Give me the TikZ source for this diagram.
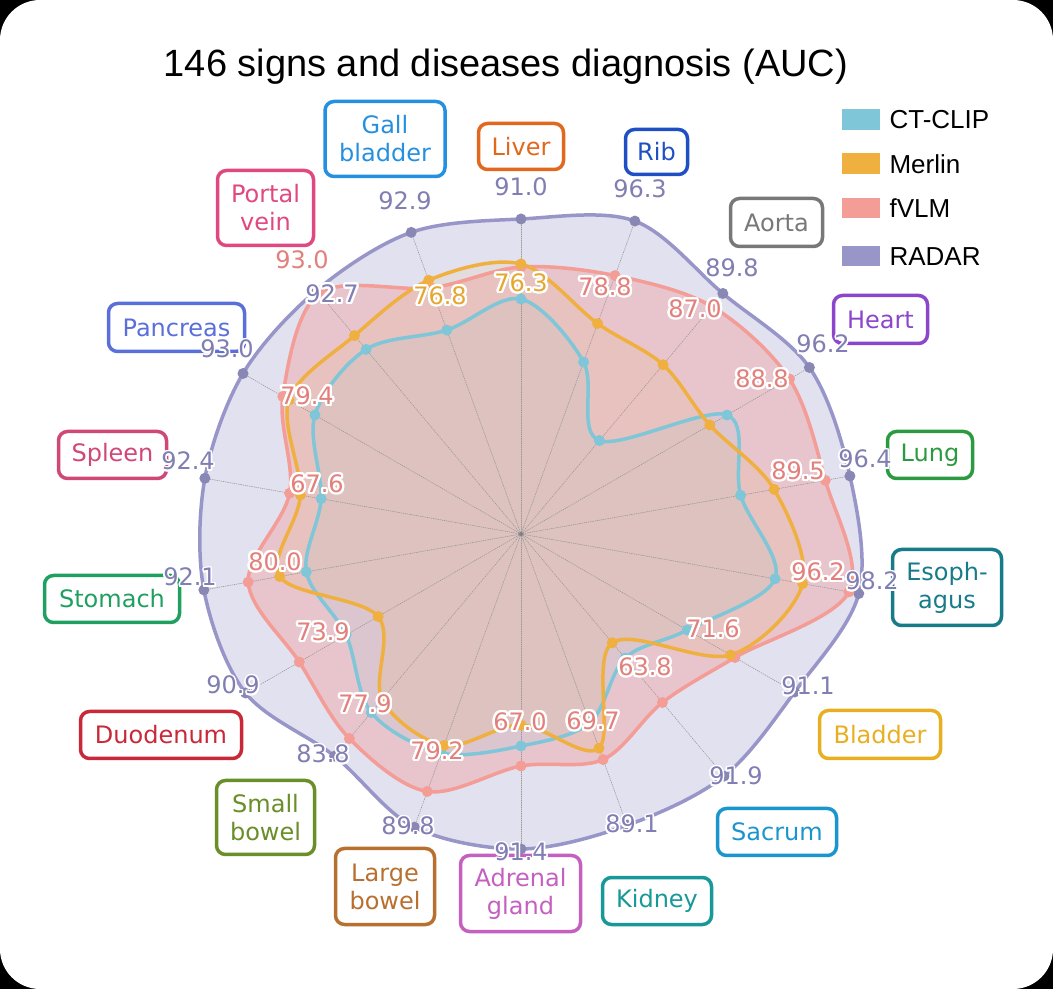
\documentclass[tikz,border=0pt]{standalone}
\usepackage{fontspec}
\setmainfont{DejaVu Sans}
\newfontfamily\arialfont{Liberation Sans}
\usepackage[copies]{contour}
\contourlength{2pt}
% white outline under a value
\newcommand\halo[1]{\contourlength{2.3pt}\contour{white}{#1}}
\newcommand\thinhalo[1]{\contourlength{1.5pt}\contour{white}{#1}}

\definecolor{ctcol}{RGB}{126,198,216}
\definecolor{mecol}{RGB}{240,176,64}
\definecolor{fvcol}{RGB}{244,156,150}
\definecolor{racol}{RGB}{152,150,200}
\definecolor{ratext}{RGB}{128,126,178}
\definecolor{fvtext}{RGB}{226,128,124}
\definecolor{metext}{RGB}{226,168,48}
\definecolor{cGall}{RGB}{38,144,224}
\definecolor{cLiver}{RGB}{226,104,30}
\definecolor{cRib}{RGB}{30,80,196}
\definecolor{cAorta}{RGB}{120,120,120}
\definecolor{cHeart}{RGB}{140,70,204}
\definecolor{cLung}{RGB}{44,154,64}
\definecolor{cEsoph}{RGB}{24,124,136}
\definecolor{cBladder}{RGB}{232,176,32}
\definecolor{cSacrum}{RGB}{26,150,204}
\definecolor{cKidney}{RGB}{24,152,152}
\definecolor{cAdrenal}{RGB}{196,96,192}
\definecolor{cLarge}{RGB}{184,112,48}
\definecolor{cSmall}{RGB}{106,142,40}
\definecolor{cDuod}{RGB}{200,40,56}
\definecolor{cStomach}{RGB}{32,160,96}
\definecolor{cSpleen}{RGB}{208,72,120}
\definecolor{cPancreas}{RGB}{90,112,216}
\definecolor{cPortal}{RGB}{224,72,128}

% closed smooth curve through the 18 points of one series
\newcommand\sercurve[1]{plot[smooth cycle, tension=0.55] coordinates {(#1-1) (#1-2) (#1-3) (#1-4) (#1-5) (#1-6) (#1-7) (#1-8) (#1-9) (#1-10) (#1-11) (#1-12) (#1-13) (#1-14) (#1-15) (#1-16) (#1-17) (#1-18)}}

\tikzset{
  catbox/.style={draw=#1, text=#1, fill=white, line width=3.5pt, rounded corners=9pt,
    align=center, inner sep=0pt, font=\fontsize{24}{28}\selectfont},
  numlab/.style={text=#1, inner sep=0pt, font=\fontsize{24}{28}\selectfont},
  axisline/.style={gray!80, line width=0.6pt, dash pattern=on 1pt off 1.2pt},
  serline/.style={#1, line width=3.5pt},
}

\begin{document}
\begin{tikzpicture}[x=1pt, y=1pt, line cap=round, line join=round]
  % card
  \fill[black] (0,0) rectangle (1053,989);
  \fill[white, rounded corners=40pt] (0,0) rectangle (1053,989);
  \useasboundingbox (0,0) rectangle (1053,989);

  % title
  \node[font=\arialfont\fontsize{38}{44}\selectfont] (title) at (506,922) {146 signs and diseases diagnosis (AUC)};

  % legend
  \fill[ctcol] (842,859) rectangle (880,880);
  \fill[mecol] (842,815) rectangle (880,836);
  \fill[fvcol] (842,771) rectangle (880,791);
  \fill[racol] (842,723) rectangle (880,743);
  \node[anchor=west, font=\arialfont\fontsize{26}{30}\selectfont] (lg-ct) at (886,869) {CT-CLIP};
  \node[anchor=west, font=\arialfont\fontsize{26}{30}\selectfont] (lg-me) at (886,825) {Merlin};
  \node[anchor=west, font=\arialfont\fontsize{26}{30}\selectfont] (lg-fv) at (886,781) {fVLM};
  \node[anchor=west, font=\arialfont\fontsize{26}{30}\selectfont] (lg-ra) at (886,732) {RADAR};

  % radar points, Liver at the top, then clockwise
  \begin{scope}[shift={(521,455)}]
    \coordinate (ctr) at (0,0);
    \foreach \r [count=\i] in {315,333,314,333,334,343,316,316,310,315,312,290,318,322,321,321,318,321}
      \coordinate (ra-\i) at ({110-20*\i}:\r);
    \foreach \r [count=\i] in {267,275,297,310,309,333,247,220,240,232,274,267,256,277,235,275,314,262}
      \coordinate (fv-\i) at ({110-20*\i}:\r);
    \foreach \r [count=\i] in {270,224,221,218,257,286,242,142,228,191,225,216,165,245,224,268,259,270}
      \coordinate (me-\i) at ({110-20*\i}:\r);
    \foreach \r [count=\i] in {235,183,122,238,223,258,192,162,201,212,233,233,202,218,203,238,241,217}
      \coordinate (ct-\i) at ({110-20*\i}:\r);
  \end{scope}

  % fills
  \fill[racol, fill opacity=0.28] \sercurve{ra};
  \fill[fvcol!90!red, fill opacity=0.32] \sercurve{fv};
  \fill[ctcol, fill opacity=0.12] \sercurve{ct};
  \fill[mecol, fill opacity=0.10] \sercurve{me};

  % spokes
  \foreach \i in {1,...,18}
    \draw[axisline] (ctr) -- (ra-\i);
  \fill[gray] (ctr) circle (2);

  % outlines and markers
  \draw[serline=racol] \sercurve{ra};
  \draw[serline=fvcol] \sercurve{fv};
  \draw[serline=ctcol] \sercurve{ct};
  \draw[serline=mecol] \sercurve{me};
  \foreach \s/\c in {ra/racol!90!black, fv/fvcol, ct/ctcol, me/mecol}
    \foreach \i in {1,...,18}
      \fill[\c] (\s-\i) circle (5.5);

  % organ boxes
  \node[catbox=cGall, minimum width=120, minimum height=75] (gall) at (385,850) {Gall\\bladder};
  \node[catbox=cLiver, minimum width=85, minimum height=46] (liver) at (521,842.5) {Liver};
  \node[catbox=cRib, minimum width=62, minimum height=45] (rib) at (656.5,837) {Rib};
  \node[catbox=cAorta, minimum width=92, minimum height=48] (aorta) at (776.5,766.5) {Aorta};
  \node[catbox=cHeart, minimum width=94, minimum height=48] (heart) at (880.5,669.5) {Heart};
  \node[catbox=cLung, minimum width=85, minimum height=47] (lung) at (930,534) {Lung};
  \node[catbox=cEsoph, minimum width=109, minimum height=76] (esoph) at (947,401.5) {Esoph-\\agus};
  \node[catbox=cBladder, minimum width=121, minimum height=48] (bladder) at (880,254.5) {Bladder};
  \node[catbox=cSacrum, minimum width=119, minimum height=47] (sacrum) at (777,157) {Sacrum};
  \node[catbox=cKidney, minimum width=109, minimum height=47] (kidney) at (657,88) {Kidney};
  \node[catbox=cAdrenal, minimum width=120, minimum height=76] (adrenal) at (520.5,95.5) {Adrenal\\gland};
  \node[catbox=cLarge, minimum width=99, minimum height=76] (large) at (385,102.5) {Large\\bowel};
  \node[catbox=cSmall, minimum width=98, minimum height=74] (small) at (265.5,171.5) {Small\\bowel};
  \node[catbox=cDuod, minimum width=161, minimum height=47] (duod) at (161,254) {Duodenum};
  \node[catbox=cStomach, minimum width=135, minimum height=47] (stomach) at (112,390) {Stomach};
  \node[catbox=cSpleen, minimum width=108, minimum height=47] (spleen) at (112.5,534) {Spleen};
  \node[catbox=cPancreas, minimum width=136, minimum height=48] (pancreas) at (176.5,661.5) {Pancreas};
  \node[catbox=cPortal, minimum width=96, minimum height=75] (portal) at (265.5,781) {Portal\\vein};

  % RADAR values
  \node[numlab=ratext] (v-liver) at (521,801) {\thinhalo{91.0}};
  \node[numlab=ratext] (v-rib) at (640,799) {\thinhalo{96.3}};
  \node[numlab=ratext] (v-aorta) at (732,720) {\thinhalo{89.8}};
  \node[numlab=ratext] (v-heart) at (823,644) {\thinhalo{96.2}};
  \node[numlab=ratext] (v-lung) at (865,529) {\thinhalo{96.4}};
  \node[numlab=ratext] (v-esoph) at (872,407) {\thinhalo{98.2}};
  \node[numlab=ratext] (v-bladder) at (808,302) {\thinhalo{91.1}};
  \node[numlab=ratext] (v-sacrum) at (736,212) {\thinhalo{91.9}};
  \node[numlab=ratext] (v-kidney) at (632,164) {\thinhalo{89.1}};
  \node[numlab=ratext] (v-adrenal) at (521,136) {\thinhalo{91.4}};
  \node[numlab=ratext] (v-large) at (408,162) {\thinhalo{89.8}};
  \node[numlab=ratext] (v-small) at (323,234) {\thinhalo{83.8}};
  \node[numlab=ratext] (v-duod) at (233,303) {\thinhalo{90.9}};
  \node[numlab=ratext] (v-stomach) at (190,411) {\thinhalo{92.1}};
  \node[numlab=ratext] (v-spleen) at (188,527) {\thinhalo{92.4}};
  \node[numlab=ratext] (v-pancreas) at (227,639) {\thinhalo{93.0}};
  \node[numlab=ratext] (v-portal) at (332,694) {\halo{92.7}};
  \node[numlab=ratext] (v-gall) at (405,787) {\thinhalo{92.9}};
  \node[numlab=fvtext] (w-portal) at (302,729) {93.0};

  % runner-up values
  \node[numlab=metext] (s-liver) at (521,705) {\halo{76.3}};
  \node[numlab=fvtext] (s-rib) at (605,701) {\halo{78.8}};
  \node[numlab=fvtext] (s-aorta) at (695,679) {\halo{87.0}};
  \node[numlab=fvtext] (s-heart) at (762,609) {\halo{88.8}};
  \node[numlab=fvtext] (s-lung) at (798,517) {\halo{89.5}};
  \node[numlab=fvtext] (s-esoph) at (818,416) {\halo{96.2}};
  \node[numlab=fvtext] (s-bladder) at (713,359) {\halo{71.6}};
  \node[numlab=fvtext] (s-sacrum) at (645,321) {\halo{63.8}};
  \node[numlab=fvtext] (s-kidney) at (593,267) {\halo{69.7}};
  \node[numlab=fvtext] (s-adrenal) at (520,266) {\halo{67.0}};
  \node[numlab=fvtext] (s-large) at (437,237) {\halo{79.2}};
  \node[numlab=fvtext] (s-small) at (365,284) {\halo{77.9}};
  \node[numlab=fvtext] (s-duod) at (323,356) {\halo{73.9}};
  \node[numlab=fvtext] (s-stomach) at (275,426) {\halo{80.0}};
  \node[numlab=fvtext] (s-spleen) at (317,504) {\halo{67.6}};
  \node[numlab=fvtext] (s-pancreas) at (307,592) {\halo{79.4}};
  \node[numlab=metext] (s-gall) at (440,692) {\halo{76.8}};
\end{tikzpicture}
\end{document}
